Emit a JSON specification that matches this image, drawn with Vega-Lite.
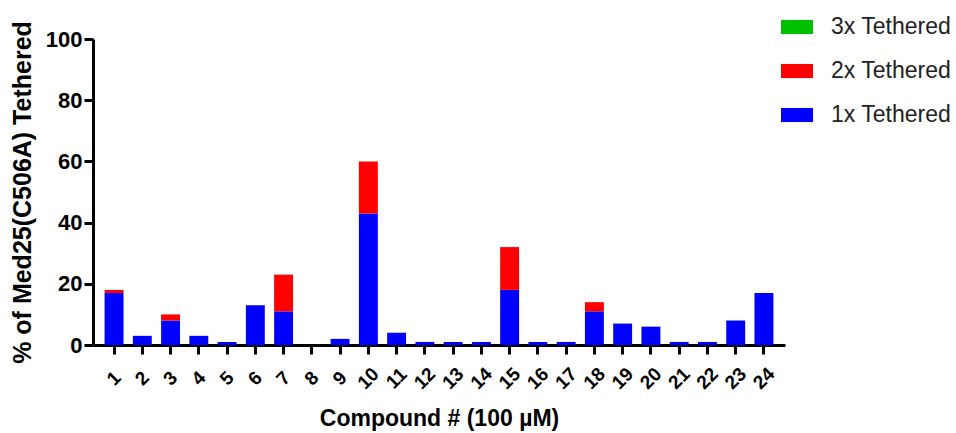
{
  "$schema": "https://vega.github.io/schema/vega-lite/v6.json",
  "width": 692,
  "height": 306,
  "autosize": {"type": "none"},
  "padding": {"left": 93, "top": 39, "right": 171, "bottom": 88},
  "background": "white",
  "config": {
    "view": {"stroke": null},
    "font": "Liberation Sans"
  },
  "data": {
    "values": [
      {"compound": "1", "type": "1x Tethered", "level": 1, "value": 17},
      {"compound": "1", "type": "2x Tethered", "level": 2, "value": 1},
      {"compound": "2", "type": "1x Tethered", "level": 1, "value": 3},
      {"compound": "3", "type": "1x Tethered", "level": 1, "value": 8},
      {"compound": "3", "type": "2x Tethered", "level": 2, "value": 2},
      {"compound": "4", "type": "1x Tethered", "level": 1, "value": 3},
      {"compound": "5", "type": "1x Tethered", "level": 1, "value": 1},
      {"compound": "6", "type": "1x Tethered", "level": 1, "value": 13},
      {"compound": "7", "type": "1x Tethered", "level": 1, "value": 11},
      {"compound": "7", "type": "2x Tethered", "level": 2, "value": 12},
      {"compound": "8", "type": "1x Tethered", "level": 1, "value": 0},
      {"compound": "9", "type": "1x Tethered", "level": 1, "value": 2},
      {"compound": "10", "type": "1x Tethered", "level": 1, "value": 43},
      {"compound": "10", "type": "2x Tethered", "level": 2, "value": 17},
      {"compound": "11", "type": "1x Tethered", "level": 1, "value": 4},
      {"compound": "12", "type": "1x Tethered", "level": 1, "value": 1},
      {"compound": "13", "type": "1x Tethered", "level": 1, "value": 1},
      {"compound": "14", "type": "1x Tethered", "level": 1, "value": 1},
      {"compound": "15", "type": "1x Tethered", "level": 1, "value": 18},
      {"compound": "15", "type": "2x Tethered", "level": 2, "value": 14},
      {"compound": "16", "type": "1x Tethered", "level": 1, "value": 1},
      {"compound": "17", "type": "1x Tethered", "level": 1, "value": 1},
      {"compound": "18", "type": "1x Tethered", "level": 1, "value": 11},
      {"compound": "18", "type": "2x Tethered", "level": 2, "value": 3},
      {"compound": "19", "type": "1x Tethered", "level": 1, "value": 7},
      {"compound": "20", "type": "1x Tethered", "level": 1, "value": 6},
      {"compound": "21", "type": "1x Tethered", "level": 1, "value": 1},
      {"compound": "22", "type": "1x Tethered", "level": 1, "value": 1},
      {"compound": "23", "type": "1x Tethered", "level": 1, "value": 8},
      {"compound": "24", "type": "1x Tethered", "level": 1, "value": 17}
    ]
  },
  "mark": {"type": "bar"},
  "encoding": {
    "x": {
      "field": "compound",
      "type": "nominal",
      "scale": {
        "domain": ["1","2","3","4","5","6","7","8","9","10","11","12","13","14","15","16","17","18","19","20","21","22","23","24"],
        "paddingInner": 0.33,
        "paddingOuter": 0.41
      },
      "axis": {
        "title": "Compound # (100 µM)",
        "titleFont": "Liberation Sans",
        "titleFontWeight": "bold",
        "titleFontSize": 23,
        "titleColor": "black",
        "titlePadding": 15,
        "labelAngle": -45,
        "labelAlign": "center",
        "labelBaseline": "middle",
        "labelPadding": 24,
        "labelFont": "Liberation Sans",
        "labelFontWeight": "bold",
        "labelFontSize": 19,
        "labelColor": "black",
        "domainColor": "black",
        "domainWidth": 3,
        "tickColor": "black",
        "tickWidth": 3,
        "tickSize": 9,
        "grid": false
      }
    },
    "y": {
      "field": "value",
      "type": "quantitative",
      "stack": "zero",
      "scale": {"domain": [0, 100], "nice": false},
      "axis": {
        "title": "% of Med25(C506A) Tethered",
        "titleFont": "Liberation Sans",
        "titleFontWeight": "bold",
        "titleFontSize": 25,
        "titleColor": "black",
        "titlePadding": 10,
        "values": [0, 20, 40, 60, 80, 100],
        "labelFont": "Liberation Sans",
        "labelFontWeight": "bold",
        "labelFontSize": 22,
        "labelColor": "black",
        "labelPadding": 2,
        "domainColor": "black",
        "domainWidth": 3,
        "tickColor": "black",
        "tickWidth": 3,
        "tickSize": 9,
        "grid": false
      }
    },
    "color": {
      "field": "type",
      "type": "nominal",
      "scale": {
        "domain": ["3x Tethered", "2x Tethered", "1x Tethered"],
        "range": ["#00C000", "#FF0000", "#0000FF"]
      },
      "legend": {
        "title": null,
        "orient": "none",
        "legendX": 688,
        "legendY": -28,
        "symbolType": "M-1,-0.44H1V0.44H-1Z",
        "symbolSize": 1024,
        "symbolStrokeWidth": 0,
        "labelFont": "Liberation Sans",
        "labelFontSize": 23,
        "labelColor": "#222222",
        "labelOffset": 18,
        "rowPadding": 16
      }
    },
    "order": {"field": "level", "type": "quantitative", "sort": "ascending"}
  }
}
